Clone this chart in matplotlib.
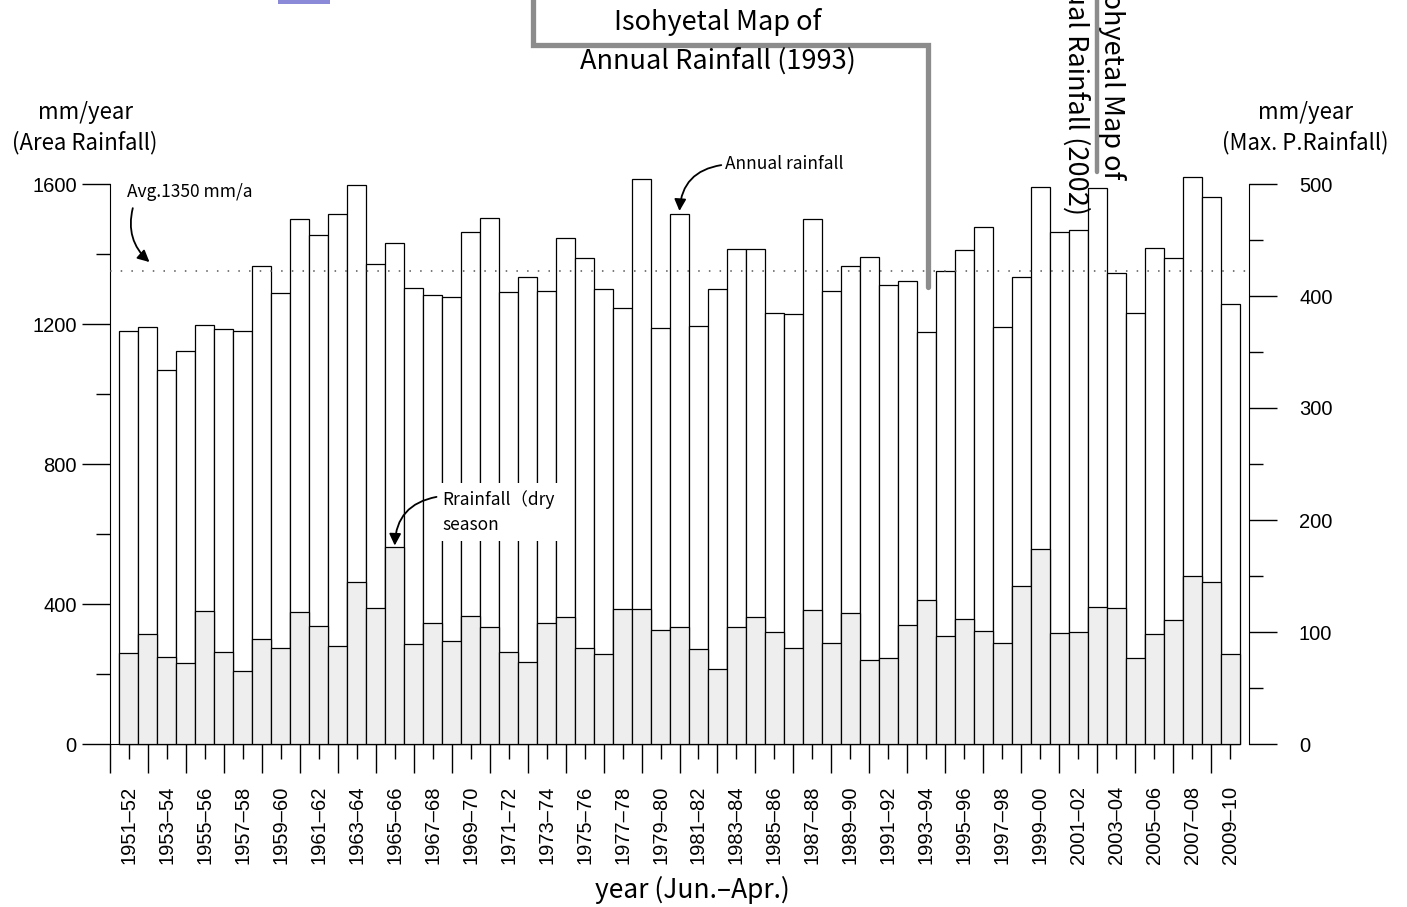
import numpy as np
import matplotlib
matplotlib.use("Agg")
import matplotlib.pyplot as plt
from matplotlib.lines import Line2D
from matplotlib.patches import Rectangle

W, H = 1407, 907
JP = ["Noto Sans CJK JP", "DejaVu Sans"]
plt.rcParams["font.family"] = ["Liberation Sans", "DejaVu Sans"]

# -- data (mm/year), hydrological year Jun.-Apr.
years = [f"{y}\u2013{str(y + 1)[-2:]}" for y in range(1951, 2010)]
annual = [1181, 1191, 1069, 1123, 1196, 1186, 1179, 1365, 1288, 1501,
          1453, 1513, 1598, 1370, 1432, 1304, 1284, 1278, 1462, 1504,
          1290, 1334, 1294, 1445, 1388, 1301, 1245, 1613, 1188, 1513,
          1194, 1299, 1413, 1415, 1232, 1228, 1500, 1293, 1366, 1391,
          1310, 1322, 1178, 1351, 1412, 1477, 1192, 1333, 1592, 1464,
          1470, 1589, 1345, 1231, 1418, 1388, 1621, 1564, 1258]
dry = [260, 315, 250, 232, 380, 264, 210, 300, 274, 377,
       338, 279, 464, 388, 562, 287, 347, 293, 367, 335,
       262, 235, 347, 364, 275, 257, 386, 386, 325, 334,
       271, 215, 334, 364, 319, 275, 382, 290, 374, 239,
       247, 341, 412, 308, 358, 324, 290, 452, 557, 318,
       319, 392, 389, 245, 314, 355, 479, 464, 258]
avg_rain = 1350


def fp(x, y):
    # reference pixel (top-left origin) -> figure fraction
    return x / W, 1 - y / H


fig = plt.figure(figsize=(W / 100, H / 100), dpi=100)
ax = fig.add_axes([110 / W, 163 / H, (1249 - 110) / W, 560 / H])
x = np.arange(len(years))

ax.bar(x, annual, width=1, color="white", edgecolor="black", linewidth=0.9,
       zorder=2, clip_on=False)
ax.bar(x, dry, width=1, color="#eeeeee", edgecolor="black", linewidth=0.9,
       zorder=3, clip_on=False)
ax.axhline(avg_rain, color="#555555", linestyle=(0, (1, 6)), linewidth=1.1, zorder=4)

ax.set_xlim(-1, 59)
ax.set_ylim(0, 1600)
for s in ["top", "right"]:
    ax.spines[s].set_visible(False)
ax.spines["left"].set_bounds(0, 1600)
ax.spines["bottom"].set_bounds(-1, 58.5)

ax.set_yticks(np.arange(0, 1601, 400))
ax.set_yticks(np.arange(200, 1601, 400), minor=True)
ax.tick_params(axis="y", which="major", direction="out", length=20, width=1,
               labelsize=14.5, pad=4)
ax.tick_params(axis="y", which="minor", direction="out", length=10, width=1)

ax.set_xticks(x[::2])
ax.set_xticklabels(years[::2], rotation=90)
ax.set_xticks(np.arange(-1, 58, 2), minor=True)
ax.tick_params(axis="x", which="major", direction="out", length=11, width=1,
               labelsize=14.5, pad=19)
ax.tick_params(axis="x", which="minor", direction="out", length=21, width=1)

ax2 = ax.twinx()
ax2.set_ylim(0, 500)
for s in ["top", "left", "bottom"]:
    ax2.spines[s].set_visible(False)
ax2.spines["right"].set_bounds(0, 500)
ax2.set_yticks(np.arange(0, 501, 100))
ax2.set_yticks(np.arange(50, 501, 100), minor=True)
ax2.tick_params(axis="y", which="major", direction="out", length=20, width=1,
                labelsize=14.5, pad=16)
ax2.tick_params(axis="y", which="minor", direction="out", length=10, width=1)

# axis titles
fig.text(*fp(85, 113), "mm/year", ha="center", va="center", fontsize=16, family=JP)
fig.text(*fp(85, 143), "(Area Rainfall)", ha="center", va="center", fontsize=16, family=JP)
fig.text(*fp(1305, 113), "mm/year", ha="center", va="center", fontsize=16, family=JP)
fig.text(*fp(1305, 143), "(Max. P.Rainfall)", ha="center", va="center", fontsize=16, family=JP)
fig.text(*fp(692, 890), "year (Jun.\u2013Apr.)", ha="center", va="center", fontsize=19, family=JP)

# annotations with curved arrows
arrow = dict(arrowstyle="-|>,head_length=0.7,head_width=0.35", color="black",
             lw=1.3, shrinkA=0, shrinkB=0)
ax.text(-0.1, 1577, "Avg.1350 mm/a", fontsize=12.5, va="center", ha="left", family=JP)
ax.annotate("", xy=(1.08, 1377), xytext=(0.2, 1531),
            arrowprops=dict(arrow, connectionstyle="arc3,rad=0.3"), annotation_clip=False)

ax.text(31.4, 1657, "Annual rainfall", fontsize=12.5, va="center", ha="left",
        family=JP, clip_on=False)
ax.annotate("", xy=(29, annual[29] + 10), xytext=(31.2, 1654),
            arrowprops=dict(arrow, connectionstyle="arc3,rad=0.4"), annotation_clip=False)

ax.text(16.5, 663, "Rrainfall\uff08dry\nseason", fontsize=12.5, va="center", ha="left",
        family=JP, linespacing=1.5, zorder=6,
        bbox=dict(facecolor="white", edgecolor="none", pad=5))
ax.annotate("", xy=(14, dry[14] + 5), xytext=(16.2, 706),
            arrowprops=dict(arrow, connectionstyle="arc3,rad=0.4"), annotation_clip=False,
            zorder=7)

# isohyetal map callouts
gray = "#8c8c8c"
px = [533, 533, 928, 928]
py = [-5, 45, 45, 287]
fig.add_artist(Line2D([v / W for v in px], [1 - v / H for v in py], color=gray,
                      lw=3.8, solid_capstyle="round", solid_joinstyle="miter"))
fig.text(*fp(718, 22), "Isohyetal Map of", ha="center", va="center", fontsize=19.5, family=JP)
fig.text(*fp(718, 61), "Annual Rainfall (1993)", ha="center", va="center", fontsize=19.5, family=JP)

fig.add_artist(Line2D([1097 / W, 1097 / W], [1 + 5 / H, 1 - 172 / H], color=gray,
                      lw=3.2, solid_capstyle="round"))
fig.text(*fp(1112, 76), "Isohyetal Map of", ha="center", va="center", rotation=270,
         fontsize=19.5, family=JP)
fig.text(*fp(1076, 77), "Annual Rainfall (2002)", ha="center", va="center", rotation=270,
         fontsize=19.5, family=JP)

fig.add_artist(Rectangle(fp(278, 4), 52 / W, 6 / H, facecolor="#8a8ad8",
                         edgecolor="none"))

fig.savefig("out.png", dpi=100)
